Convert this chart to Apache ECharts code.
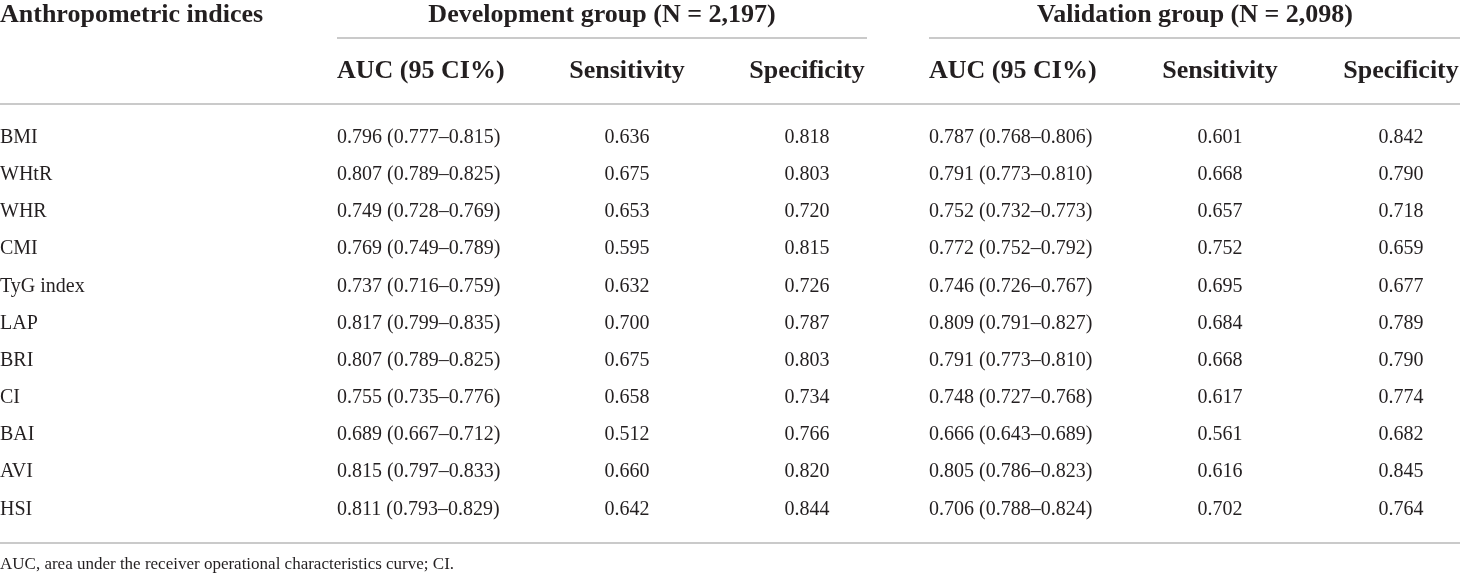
<!DOCTYPE html>
<html><head><meta charset="utf-8">
<script src="https://cdn.jsdelivr.net/npm/echarts@6/dist/echarts.min.js"></script>
<style>html,body{margin:0;padding:0;background:#fff}#c{width:1460px;height:577px}</style>
</head><body><div id="c"></div>
<script>
// ---- data ----
const indices = ['BMI','WHtR','WHR','CMI','TyG index','LAP','BRI','CI','BAI','AVI','HSI'];
const devAuc     = [0.796,0.807,0.749,0.769,0.737,0.817,0.807,0.755,0.689,0.815,0.811];
const devAucLow  = [0.777,0.789,0.728,0.749,0.716,0.799,0.789,0.735,0.667,0.797,0.793];
const devAucHigh = [0.815,0.825,0.769,0.789,0.759,0.835,0.825,0.776,0.712,0.833,0.829];
const devSens    = [0.636,0.675,0.653,0.595,0.632,0.700,0.675,0.658,0.512,0.660,0.642];
const devSpec    = [0.818,0.803,0.720,0.815,0.726,0.787,0.803,0.734,0.766,0.820,0.844];
const valAuc     = [0.787,0.791,0.752,0.772,0.746,0.809,0.791,0.748,0.666,0.805,0.706];
const valAucLow  = [0.768,0.773,0.732,0.752,0.726,0.791,0.773,0.727,0.643,0.786,0.788];
const valAucHigh = [0.806,0.810,0.773,0.792,0.767,0.827,0.810,0.768,0.689,0.823,0.824];
const valSens    = [0.601,0.668,0.657,0.752,0.695,0.684,0.668,0.617,0.561,0.616,0.702];
const valSpec    = [0.842,0.790,0.718,0.659,0.677,0.789,0.790,0.774,0.682,0.845,0.764];
const firstHeader = 'Anthropometric indices';
const groupHeaders = ['Development group (N = 2,197)', 'Validation group (N = 2,098)'];
const columnHeaders = ['AUC (95 CI%)','Sensitivity','Specificity','AUC (95 CI%)','Sensitivity','Specificity'];
const footnote = 'AUC, area under the receiver operational characteristics curve; CI.';

// ---- layout (not data) ----
const W = 1460;
const colX = [0, 337, 627, 807, 929, 1220, 1401];
const colAlign = ['left','left','center','center','left','center','center'];
const TEXT = '#231f20';
const RULE = '#b8b8b8';
const SERIF = '"Liberation Serif", "DejaVu Serif", serif';
const dataFont = '20px ' + SERIF;
const headFont = 'bold 26px ' + SERIF;

const f3 = v => v.toFixed(3);
const aucText = (a, lo, hi) => a.map((v, i) => f3(v) + ' (' + f3(lo[i]) + '\u2013' + f3(hi[i]) + ')');

const columns = [
  indices,
  aucText(devAuc, devAucLow, devAucHigh),
  devSens.map(f3),
  devSpec.map(f3),
  aucText(valAuc, valAucLow, valAucHigh),
  valSens.map(f3),
  valSpec.map(f3)
];

const series = columns.map((texts, c) => ({
  type: 'custom',
  coordinateSystem: 'cartesian2d',
  encode: { x: 0, y: 1 },
  data: texts.map((t, i) => [colX[c], i]),
  silent: true,
  renderItem: function (params, api) {
    const p = api.coord([api.value(0), api.value(1)]);
    return {
      type: 'text',
      style: {
        text: texts[params.dataIndex],
        x: p[0], y: p[1],
        textAlign: colAlign[c],
        textVerticalAlign: 'middle',
        font: dataFont,
        fill: TEXT
      }
    };
  }
}));

function txt(text, x, y, align, font) {
  return { type: 'text', x: x, y: y, silent: true,
    style: { text: text, font: font, fill: TEXT, textAlign: align, textVerticalAlign: 'middle' } };
}
function rule(x1, y, x2) {
  return { type: 'line', silent: true, shape: { x1: x1, y1: y, x2: x2, y2: y },
    style: { stroke: RULE, lineWidth: 1.6 } };
}

const graphic = [
  txt(firstHeader, 0, 15, 'left', headFont),
  txt(groupHeaders[0], 602, 15, 'center', headFont),
  txt(groupHeaders[1], 1195, 15, 'center', headFont),
  rule(337, 38, 867),
  rule(929, 38, W),
  rule(0, 104, W),
  rule(0, 543, W),
  txt(footnote, 0, 565, 'left', '17px ' + SERIF)
];
columnHeaders.forEach((h, k) => {
  graphic.push(txt(h, colX[k + 1], 71, colAlign[k + 1], headFont));
});

const chart = echarts.init(document.getElementById('c'), null, { renderer: 'canvas' });
chart.setOption({
  animation: false,
  backgroundColor: '#fff',
  grid: { left: 0, right: 0, top: 119, bottom: 49, containLabel: false },
  xAxis: { type: 'value', min: 0, max: W, show: false },
  yAxis: { type: 'category', data: indices, inverse: true, show: false },
  graphic: graphic,
  series: series
});
</script>
</body></html>
